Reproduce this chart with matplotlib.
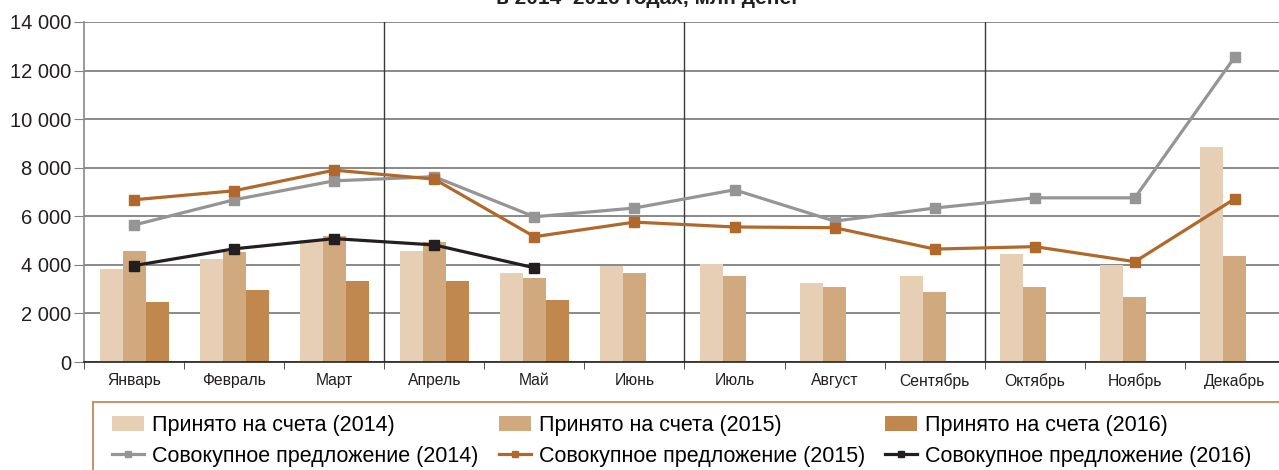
import matplotlib
matplotlib.use("Agg")
import matplotlib.pyplot as plt
from matplotlib.patches import Rectangle, Patch
from matplotlib.lines import Line2D
import numpy as np

plt.rcParams['font.family'] = ['Liberation Sans', 'DejaVu Sans']

months = ["Январь", "Февраль", "Март", "Апрель", "Май", "Июнь", "Июль",
          "Август", "Сентябрь", "Октябрь", "Ноябрь", "Декабрь"]

accepted_2014 = [3830, 4240, 5020, 4570, 3660, 3950, 4040, 3250, 3540, 4450, 3990, 8840]
accepted_2015 = [4570, 4530, 5190, 4940, 3460, 3660, 3540, 3090, 2880, 3090, 2680, 4365]
accepted_2016 = [2470, 2965, 3335, 3335, 2550]

supply_2014 = [5640, 6680, 7460, 7630, 5980, 6340, 7090, 5800, 6340, 6760, 6760, 12570]
supply_2015 = [6680, 7050, 7900, 7530, 5160, 5760, 5560, 5530, 4650, 4750, 4130, 6725]
supply_2016 = [3970, 4660, 5080, 4820, 3880]

yticks = [0, 2000, 4000, 6000, 8000, 10000, 12000, 14000]
ytick_labels = ["0", "2 000", "4 000", "6 000", "8 000", "10 000", "12 000", "14 000"]

title = "в 2014–2016 годах, млн денег"
lab_acc = ["Принято на счета (2014)", "Принято на счета (2015)", "Принято на счета (2016)"]
lab_sup = ["Совокупное предложение (2014)", "Совокупное предложение (2015)",
           "Совокупное предложение (2016)"]

c_bar = ["#E6CFB5", "#D1A97E", "#C0874E"]
c_line = ["#959595", "#B0692B", "#231F20"]

W, H = 1279, 470
fig = plt.figure(figsize=(W / 100, H / 100), dpi=100)
ax = fig.add_axes([84 / W, (H - 362) / H, 1201 / W, 340 / H])

x = np.arange(len(months))
bw = 0.23
ax.bar(x - bw, accepted_2014, bw, color=c_bar[0], zorder=2)
ax.bar(x, accepted_2015, bw, color=c_bar[1], zorder=2)
x16 = np.arange(len(accepted_2016))
ax.bar(x16 + bw, accepted_2016, bw, color=c_bar[2], zorder=2)

lw, ms = 2.3, 6.5
ax.plot(x, supply_2014, color=c_line[0], lw=lw, marker="s", ms=ms, zorder=3)
ax.plot(x, supply_2015, color=c_line[1], lw=lw, marker="s", ms=ms, zorder=4)
ax.plot(np.arange(len(supply_2016)), supply_2016, color=c_line[2], lw=lw,
        marker="s", ms=ms, zorder=5)

ax.set_xlim(-0.5, len(months) - 0.5)
ax.set_ylim(0, 14000)
ax.set_yticks(yticks)
ax.set_yticklabels(ytick_labels, fontsize=14.5, color="#231F20")
ax.yaxis.grid(True, color="#6a6a6a", lw=1.1, zorder=0)
ax.set_axisbelow(True)
for b in [2.5, 5.5, 8.5]:
    ax.axvline(b, color="#3a3a3a", lw=1.0, zorder=1)

ax.set_xticks(x)
ax.set_xticklabels(months, fontsize=11.3, color="#231F20")
ax.set_xticks(np.arange(-0.5, len(months), 1), minor=True)
ax.tick_params(axis="x", which="major", length=0, pad=8)
ax.tick_params(axis="x", which="minor", length=5, color="#333333", direction="out")
ax.tick_params(axis="y", length=7, color="#808080", direction="out", pad=2)
for s in ["top", "right"]:
    ax.spines[s].set_visible(False)
ax.spines["left"].set_color("#8a8a8a")
ax.spines["left"].set_linewidth(1.2)
ax.spines["bottom"].set_color("#222222")
ax.spines["bottom"].set_linewidth(1.2)

fig.text(648 / W, 1.0 + 1 / H, title, ha="center", va="center", fontsize=15,
         fontweight="bold", color="#231F20")

# legend frame
fig.add_artist(Rectangle((93 / W, -0.1), (W + 20 - 93) / W, (H - 402) / H + 0.1,
                         transform=fig.transFigure, fill=False,
                         edgecolor="#C08A55", lw=1.3))

xs = [112, 499, 885]
for i in range(3):
    handles = [Patch(facecolor=c_bar[i], edgecolor="none"),
               Line2D([], [], color=c_line[i], lw=2.3, marker="s", ms=4.5)]
    fig.legend(handles, [lab_acc[i], lab_sup[i]], loc="upper left",
               bbox_to_anchor=(xs[i] / W, 1 - 415 / H), frameon=False,
               fontsize=15.5, handlelength=1.5, handleheight=0.65,
               handletextpad=0.37, labelspacing=0.45, borderpad=0, borderaxespad=0)

fig.savefig("out.png", dpi=100)
